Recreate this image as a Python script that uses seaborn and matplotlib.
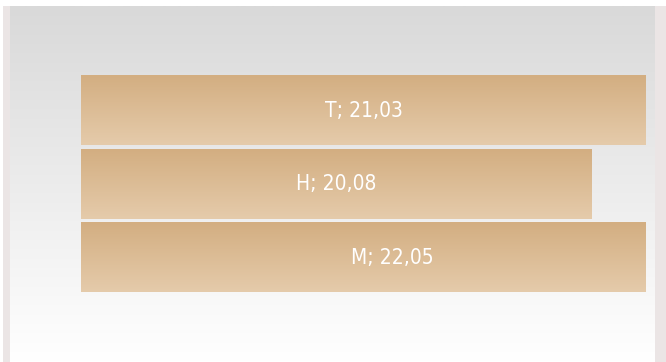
import numpy as np
import pandas as pd
import matplotlib
matplotlib.use('Agg')
import matplotlib.pyplot as plt
from matplotlib.colors import LinearSegmentedColormap
import seaborn as sns

categories = ['T', 'H', 'M']
values = [21.03, 20.08, 22.05]
labels = ['T; 21,03', 'H; 20,08', 'M; 22,05']

sns.set_style('white')
plt.rcParams['font.family'] = ['DejaVu Sans']

W, H = 666, 362
fig = plt.figure(figsize=(W / 100, H / 100), dpi=100)
fig.patch.set_facecolor('white')

# pinkish side strips
strip = fig.add_axes([3 / W, 0, 663 / W, 356 / H], zorder=0)
strip.set_facecolor('#ebe5e5')
strip.set_xticks([])
strip.set_yticks([])
for s in strip.spines.values():
    s.set_visible(False)

# gradient backdrop
bg = fig.add_axes([10 / W, 0, 645 / W, 356 / H], zorder=1)
bg_cmap = LinearSegmentedColormap.from_list('bg', ['#d9d9d9', '#ffffff'])
bg.imshow(np.linspace(0, 1, 256).reshape(-1, 1), aspect='auto', cmap=bg_cmap,
          extent=[0, 1, 0, 1], origin='upper')
bg.set_axis_off()

# plot area
top, step = 73.75, 73.5
ax = fig.add_axes([81 / W, (H - top - 3 * step) / H, 565 / W, 3 * step / H], zorder=2)
ax.patch.set_alpha(0)
df = pd.DataFrame({'cat': categories, 'val': values})
sns.barplot(data=df, y='cat', x='val', orient='h', width=0.95, color='#d4af82',
            ax=ax, saturation=1)
x0, x1 = 11.1, 21.03

bar_cmap = LinearSegmentedColormap.from_list('bar', ['#d3ae81', '#e5cbab'])
grad = np.linspace(0, 1, 256).reshape(-1, 1)
for p in ax.patches:
    bx, by = p.get_x(), p.get_y()
    bw, bh = p.get_width(), p.get_height()
    ax.imshow(grad, aspect='auto', cmap=bar_cmap,
              extent=[max(bx, x0), min(bx + bw, x1), by + bh, by],
              origin='upper', zorder=2)
    p.set_visible(False)
ax.set_xlim(x0, x1)
ax.set_ylim(2.5, -0.5)

for i, (v, lab) in enumerate(zip(values, labels)):
    ax.text((x0 + v) / 2, i, lab, ha='center', va='center', color='white',
            fontsize=15, fontstretch='condensed', zorder=3)

ax.set_axis_off()
fig.savefig('out.png', dpi=100)
